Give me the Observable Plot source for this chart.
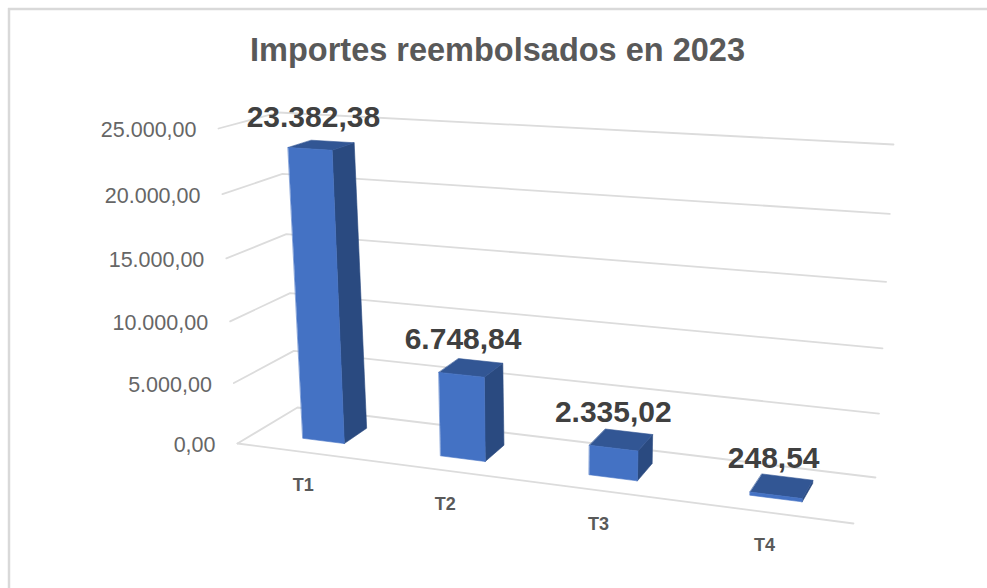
<!DOCTYPE html>
<html>
<head>
<meta charset="utf-8">
<script src="https://cdn.jsdelivr.net/npm/d3@7"></script>
<script src="https://cdn.jsdelivr.net/npm/@observablehq/plot@0.6"></script>
<style>
html,body{margin:0;padding:0;background:#fff;overflow:hidden}
svg{display:block}
</style>
</head>
<body>
<div id="chart"></div>
<script>
const chartTitle = "Importes reembolsados en 2023";
const categories = ["T1", "T2", "T3", "T4"];
const values = [23382.38, 6748.84, 2335.02, 248.54];
const valueLabels = ["23.382,38", "6.748,84", "2.335,02", "248,54"];
const ticks = [0, 5000, 10000, 15000, 20000, 25000];
const tickLabels = ["0,00", "5.000,00", "10.000,00", "15.000,00", "20.000,00", "25.000,00"];
const maxValue = 25000;

// Perspective box of the 3D chart: floor and ceiling corners (front/back, left/right)
const floorBox = {fl: [237, 443], fr: [853, 523], bl: [297, 407], br: [875, 477]};
const topBox = {fl: [218, 128], fr: [876, 167], bl: [278, 112], br: [893, 144]};
const warp = (t, k) => t * k / (1 + t * (k - 1));
const lerp = (a, b, t) => [a[0] + (b[0] - a[0]) * t, a[1] + (b[1] - a[1]) * t];
const planePoint = (p, u, d) => lerp(lerp(p.fl, p.fr, u), lerp(p.bl, p.br, u), d);
function project(u, value, d) {
  const uu = warp(u, 0.856);
  return lerp(planePoint(floorBox, uu, d), planePoint(topBox, uu, d), warp(value / maxValue, 0.95));
}

const d0 = 0.31, d1 = 0.72, halfBar = 0.0385;
const n = categories.length;
const centre = i => (i + 0.5) / n + 0.003;

const pts = (id, list) => list.map(([u, v, d]) => {
  const [x, y] = project(u, v, d);
  return {id, x, y};
});

const gridRows = ticks.flatMap(t => pts("g" + t, [[0, t, 0], [0, t, 1], [1, t, 1]]));
const floorFront = pts("front", [[0, 0, 0], [1, 0, 0]]);

const barMarks = values.flatMap((v, i) => {
  const a = centre(i) - halfBar, b = centre(i) + halfBar;
  const face = (name, list) => pts(name + i, list);
  const front = face("front", [[a, 0, d0], [b, 0, d0], [b, v, d0], [a, v, d0]]);
  const side = face("side", [[b, 0, d0], [b, 0, d1], [b, v, d1], [b, v, d0]]);
  const top = face("top", [[a, v, d0], [b, v, d0], [b, v, d1], [a, v, d1]]);
  const faceMark = (data, color) => Plot.line(data, {x: "x", y: "y", z: "id", fill: color, stroke: color, strokeWidth: 0.6, curve: "linear-closed"});
  return [faceMark(side, "#2a4a80"), faceMark(top, "#325694"), faceMark(front, "#4472c4")];
});

const valueRows = values.map((v, i) => {
  const [x, y] = project(centre(i), v, (d0 + d1) / 2);
  return {x, y, label: valueLabels[i]};
});
const tickRows = ticks.map((t, i) => {
  const [x, y] = project(0, t, 0);
  return {x, y, label: tickLabels[i]};
});
const catRows = categories.map((c, i) => {
  const [x, y] = project(centre(i), 0, 0);
  return {x, y, label: c};
});

const font = "Liberation Sans, Arial, sans-serif";
const chart = Plot.plot({
  width: 987, height: 588,
  margin: 0,
  style: {background: "#fff", fontFamily: font},
  x: {domain: [0, 987], range: [0, 987], axis: null},
  y: {domain: [0, 588], range: [0, 588], axis: null},
  marks: [
    Plot.ruleX([8.5], {y1: 8, y2: 588, stroke: "#d9d9d9", strokeWidth: 2.5}),
    Plot.ruleY([8.5], {x1: 8, x2: 987, stroke: "#d9d9d9", strokeWidth: 2.5}),
    Plot.line(gridRows, {x: "x", y: "y", z: "id", stroke: "#dcdcdc", strokeWidth: 1.8}),
    Plot.line(floorFront, {x: "x", y: "y", z: "id", stroke: "#dcdcdc", strokeWidth: 1.8}),
    ...barMarks,
    Plot.text([chartTitle], {frameAnchor: "top", dx: 3.5, dy: 37, fontSize: 32.5, fontWeight: "bold", fill: "#595959", lineAnchor: "top"}),
    Plot.text(tickRows, {x: "x", y: "y", text: "label", textAnchor: "end", dx: -22, dy: 2, fontSize: 21.5, fill: "#666666"}),
    Plot.text(catRows, {x: "x", y: "y", text: "label", dx: -3, dy: 33, fontSize: 18, fontWeight: "bold", fill: "#595959"}),
    Plot.text(valueRows, {x: "x", y: "y", text: "label", dx: -8, dy: -28, fontSize: 30, fontWeight: "bold", fill: "#404040"})
  ]
});
document.getElementById("chart").append(chart);
</script>
</body>
</html>
